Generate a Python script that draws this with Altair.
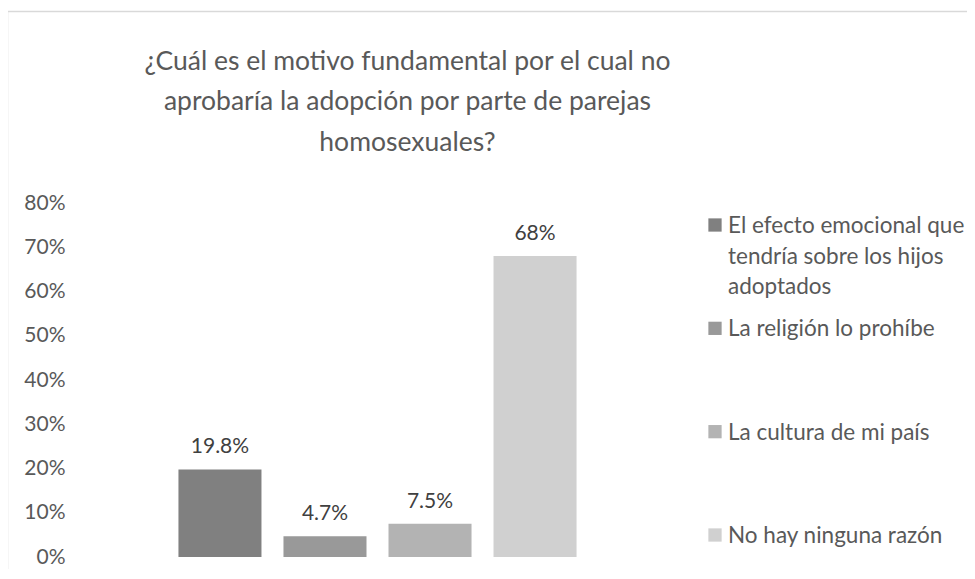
import altair as alt
import pandas as pd

# ---- data ----
categories = [
    "El efecto emocional que tendría sobre los hijos adoptados",
    "La religión lo prohíbe",
    "La cultura de mi país",
    "No hay ninguna razón",
]
legend_lines = [
    "El efecto emocional que\ntendría sobre los hijos\nadoptados",
    "La religión lo prohíbe",
    "La cultura de mi país",
    "No hay ninguna razón",
]
values = [0.198, 0.047, 0.075, 0.68]
value_labels = ["19.8%", "4.7%", "7.5%", "68%"]
colors = ["#808080", "#999999", "#b3b3b3", "#d0d0d0"]
y_ticks = [0, 0.1, 0.2, 0.3, 0.4, 0.5, 0.6, 0.7, 0.8]
title_lines = [
    "¿Cuál es el motivo fundamental por el cual no",
    "aprobaría la adopción por parte de parejas",
    "homosexuales?",
]

df = pd.DataFrame({
    "cat": categories,
    "legend": legend_lines,
    "value": values,
    "label": value_labels,
})

FONT = "Lato"
W, H = 605, 354

color = alt.Color("cat:N", scale=alt.Scale(domain=categories, range=colors), legend=None)
xenc = alt.X("cat:N", sort=categories, axis=None,
             scale=alt.Scale(domain=categories, paddingInner=0.2095, paddingOuter=0.985))
yenc = alt.Y("value:Q", scale=alt.Scale(domain=[0, 0.8], nice=False),
             axis=alt.Axis(values=y_ticks, format=".0%", domain=False, ticks=False, grid=False,
                           labelPadding=10, labelFont=FONT, labelFontSize=21,
                           labelColor="#595959", title=None))

base = alt.Chart(df)

bars = base.mark_bar().encode(x=xenc, y=yenc, color=color)

labels = base.mark_text(font=FONT, fontSize=21, color="#404040", baseline="alphabetic", dy=-16).encode(
    x=xenc, y=alt.Y("value:Q"), text="label:N"
)

ly = alt.Y("cat:N", sort=categories, axis=None,
           scale=alt.Scale(type="point", domain=categories, range=[22, 332], padding=0))

leg_sq = base.mark_square(size=176, opacity=1).encode(
    x=alt.value(640), y=ly, color=color
)
leg_txt = base.mark_text(font=FONT, fontSize=22.5, color="#595959", align="left",
                         baseline="alphabetic", dy=8, lineBreak="\n", lineHeight=30.5).encode(
    x=alt.value(653), y=ly, text="legend:N"
)

border_v = alt.Chart(pd.DataFrame({"k": [0]})).mark_rule(color="#d9d9d9", strokeWidth=1.5).encode(
    x=alt.value(-67.5), y=alt.value(-192), y2=alt.value(366)
)
border_h = alt.Chart(pd.DataFrame({"k": [0]})).mark_rule(color="#d9d9d9", strokeWidth=1.5).encode(
    x=alt.value(-68), x2=alt.value(892), y=alt.value(-191.5)
)

main = alt.layer(bars, labels)
legend = alt.layer(leg_sq, leg_txt)

chart = alt.layer(main, legend, border_v, border_h).resolve_scale(
    y="independent"
).properties(
    width=W,
    height=H,
    background="white",
    autosize=alt.AutoSizeParams(type="none"),
    padding={"left": 67, "top": 195, "right": 287, "bottom": 14},
    title=alt.TitleParams(
        text=title_lines, anchor="middle", frame="group", dx=30, offset=0, dy=146,
        font=FONT, fontSize=26.5, fontWeight="normal", color="#595959", lineHeight=40.5,
    ),
).configure_view(stroke=None)

chart.save("out.html", embed_options={"renderer": "svg", "actions": False})
